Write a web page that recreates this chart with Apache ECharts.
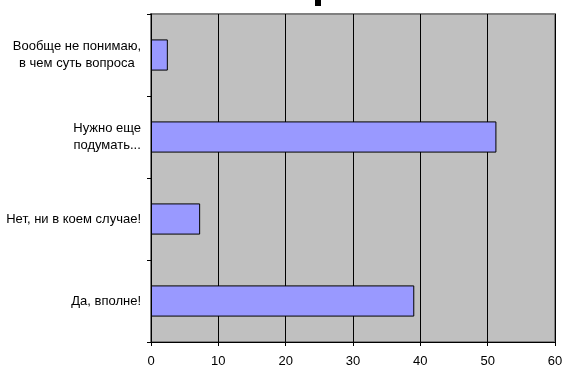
<!DOCTYPE html>
<html><head><meta charset="utf-8">
<script src="https://cdn.jsdelivr.net/npm/echarts@6/dist/echarts.min.js"></script>
<style>html,body{margin:0;padding:0;background:#fff}#c{width:571px;height:373px}</style>
</head><body><div id="c"></div>
<script>
var categories = ["Да, вполне!", "Нет, ни в коем случае!", "Нужно еще\nподумать...", "Вообще не понимаю,\nв чем суть вопроса"];
var values = [39.1, 7.3, 51.3, 2.5];
var xTicks = [0, 10, 20, 30, 40, 50, 60];

var chart = echarts.init(document.getElementById('c'), null, {renderer: 'canvas'});
chart.setOption({
  animation: false,
  backgroundColor: '#ffffff',
  graphic: [{type: 'rect', shape: {x: 315, y: 0, width: 6, height: 6}, style: {fill: '#000'}}],
  grid: {left: 151, top: 14, right: 16, bottom: 31, show: true, backgroundColor: '#C0C0C0', borderColor: '#808080', borderWidth: 2},
  xAxis: {
    type: 'value', min: xTicks[0], max: xTicks[xTicks.length - 1], interval: 10,
    axisLine: {show: true, lineStyle: {color: '#000', width: 1}},
    axisTick: {show: true, length: 4, lineStyle: {color: '#000'}},
    splitLine: {show: true, lineStyle: {color: '#000', width: 1}},
    axisLabel: {color: '#000', fontFamily: 'Liberation Sans, Arial', fontSize: 13, margin: 13}
  },
  yAxis: {
    type: 'category', data: categories,
    axisLine: {show: true, lineStyle: {color: '#000', width: 1}},
    axisTick: {show: true, length: 4, lineStyle: {color: '#000'}},
    axisLabel: {
      color: '#000', fontFamily: 'Liberation Sans, Arial', fontSize: 13, margin: 10, lineHeight: 17,
      formatter: function (v) { return v.split('\n').map(function (s) { return '{c|' + s + '}'; }).join('\n'); },
      rich: {c: {align: 'center', color: '#000', fontFamily: 'Liberation Sans, Arial', fontSize: 13, lineHeight: 17}}
    }
  },
  series: [{
    type: 'bar', data: values, barWidth: '38%',
    itemStyle: {color: '#9999FF', borderColor: '#000', borderWidth: 1}
  }]
});
</script></body></html>
